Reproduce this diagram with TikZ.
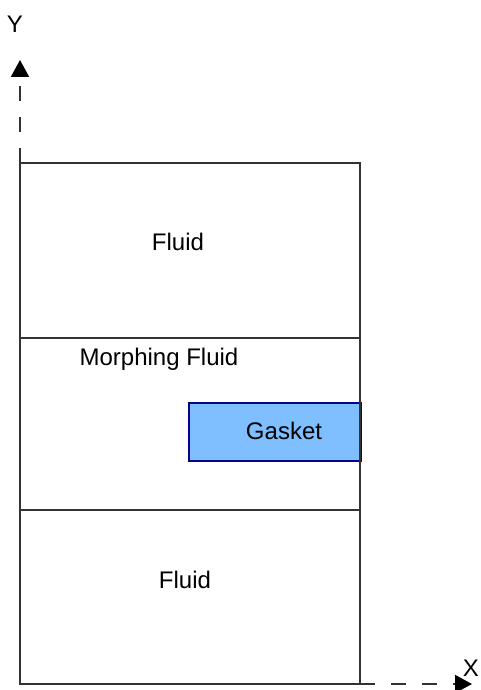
\documentclass[tikz,border=0pt]{standalone}
\usepackage{fontspec}
\setmainfont{Liberation Sans}
\usetikzlibrary{arrows.meta, positioning}
\definecolor{gasketblue}{RGB}{128,191,255}
\definecolor{gasketedge}{RGB}{0,0,140}
\tikzset{
  frame/.style={draw=black!80, line width=2pt},
  axis/.style={draw=black!80, line width=2pt, dash pattern=on 15pt off 16pt,
               -{Triangle[length=17pt, width=18pt, color=black]}},
  label/.style={font=\fontsize{24}{28}\selectfont, inner sep=0pt},
  gasketbox/.style={rectangle, draw=gasketedge, fill=gasketblue, line width=1.5pt,
                    minimum width=172pt, minimum height=58pt, anchor=north west, inner sep=0pt},
}
\begin{document}
\begin{tikzpicture}[x=1pt, y=-1pt]
  \useasboundingbox (0,0) rectangle (480,690);

  % Corners of the domain
  \coordinate (tl) at (20,163);
  \coordinate (tr) at (360,163);
  \coordinate (bl) at (20,684);
  \coordinate (br) at (360,684);
  \coordinate (ml) at (20,338);
  \coordinate (mr) at (360,338);
  \coordinate (nl) at (20,510);
  \coordinate (nr) at (360,510);

  % Gasket
  \node[gasketbox] (gasket) at (188,402) {};
  \node[label] (gaskettxt) at (284,431) {Gasket};

  % Domain outline and layers
  \draw[frame] (tl) -- (tr) -- (br) -- (bl) -- cycle;
  \draw[frame] (ml) -- (mr);
  \draw[frame] (nl) -- (nr);

  % Region labels
  \node[label] (fluidtop) at (178,242) {Fluid};
  \node[label] (morph) at (159,359) {Morphing Fluid};
  \node[label] (fluidbot) at (185,580) {Fluid};

  % Axes
  \coordinate (ytip) at (20,60);
  \coordinate (xtip) at (472,684);
  \draw[axis] (tl) -- (ytip);
  \draw[axis] (br) -- (xtip);
  \node[label] (ylab) at (15,24) {Y};
  \node[label, anchor=east] (xlab) at (479,668) {X};

\end{tikzpicture}
\end{document}
